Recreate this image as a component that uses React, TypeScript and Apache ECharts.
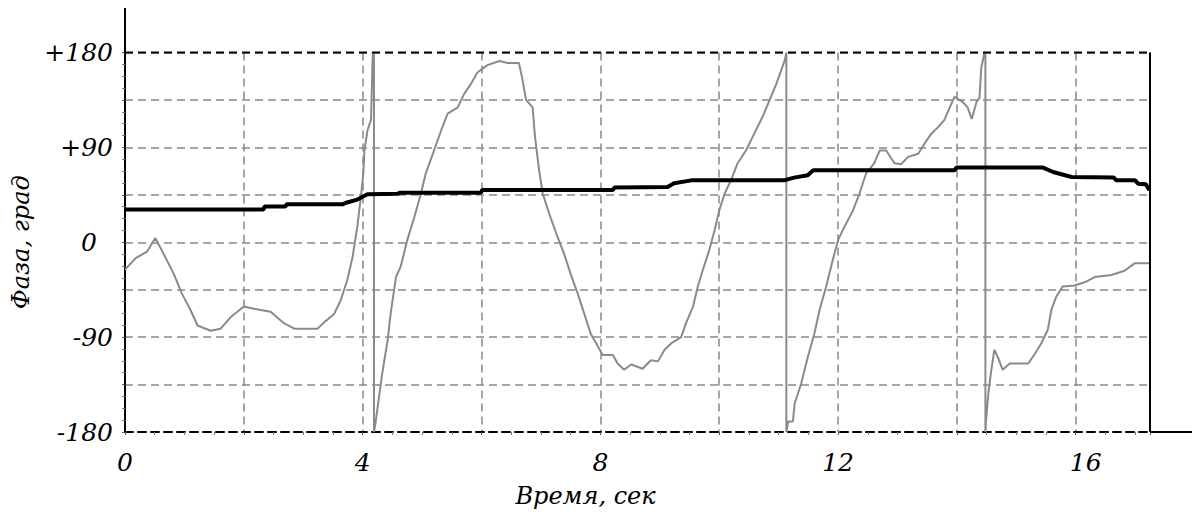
import React, { useEffect, useRef } from "react";
import * as echarts from "echarts";

// Time (s) / phase (deg) samples
const phaseRaw: [number, number][] = [
  [0.0, -26], [0.18, -15], [0.37, -9], [0.51, 4], [0.65, -11], [0.82, -30], [0.96, -49], [1.1, -64],
  [1.22, -79], [1.44, -84], [1.61, -82], [1.78, -71], [2.0, -61], [2.17, -63], [2.45, -66], [2.68, -77],
  [2.85, -82], [3.24, -82], [3.35, -76], [3.52, -68], [3.63, -55], [3.74, -36], [3.83, -14], [3.91, 15],
  [3.97, 43], [4.01, 65], [4.03, 87], [4.08, 106], [4.14, 116], [4.17, 180], [4.19, 180], [4.19, -180],
  [4.22, -170], [4.26, -153], [4.33, -124], [4.42, -93], [4.47, -68], [4.56, -33], [4.64, -23], [4.75, 2],
  [4.87, 24], [4.98, 46], [5.06, 65], [5.2, 87], [5.32, 106], [5.43, 122], [5.6, 128], [5.71, 141],
  [5.82, 150], [5.93, 161], [6.1, 168], [6.3, 172], [6.44, 170], [6.63, 170], [6.69, 154], [6.75, 135],
  [6.86, 128], [6.9, 100], [6.97, 68], [7.03, 46], [7.14, 27], [7.28, 5], [7.39, -11], [7.5, -30],
  [7.62, -49], [7.73, -68], [7.84, -87], [7.95, -98], [8.04, -107], [8.21, -107], [8.29, -115], [8.4, -121],
  [8.52, -116], [8.71, -120], [8.85, -112], [8.97, -113], [9.08, -102], [9.19, -96], [9.36, -90], [9.44, -77],
  [9.56, -61], [9.64, -42], [9.72, -27], [9.83, -8], [9.92, 11], [10.0, 30], [10.09, 46], [10.2, 59],
  [10.31, 75], [10.45, 87], [10.59, 103], [10.73, 119], [10.85, 135], [10.96, 150], [11.1, 172], [11.13, 180],
  [11.13, -180], [11.16, -170], [11.24, -170], [11.27, -153], [11.38, -134], [11.49, -109], [11.6, -87], [11.69, -64],
  [11.8, -42], [11.91, -17], [12.0, 2], [12.11, 15], [12.25, 30], [12.36, 46], [12.47, 65], [12.61, 75],
  [12.7, 87], [12.81, 87], [12.95, 75], [13.06, 74], [13.18, 81], [13.35, 84], [13.46, 94], [13.57, 103],
  [13.68, 109], [13.79, 116], [13.88, 128], [13.96, 138], [14.1, 133], [14.18, 128], [14.25, 117], [14.33, 133],
  [14.38, 137], [14.41, 165], [14.46, 179], [14.48, 180], [14.48, -180], [14.49, -170], [14.53, -143], [14.58, -121],
  [14.63, -102], [14.69, -109], [14.77, -121], [14.89, -115], [15.2, -115], [15.31, -106], [15.42, -96], [15.53, -83],
  [15.59, -64], [15.67, -52], [15.78, -42], [15.98, -41], [16.15, -38], [16.32, -33], [16.6, -31], [16.82, -27],
  [16.99, -20], [17.24, -20],
];

const phaseSmooth: [number, number][] = [
  [0, 31], [2.33, 31], [2.35, 34], [2.7, 34], [2.72, 36], [3.66, 36], [3.72, 37.5], [3.91, 40.5],
  [4.08, 45.5], [4.59, 46], [4.62, 47], [5.99, 47], [6.01, 49.5], [8.21, 49.5], [8.24, 52], [9.13, 52.5],
  [9.24, 56], [9.53, 58.7], [11.09, 58.7], [11.26, 61.3], [11.49, 63.5], [11.58, 68.2], [13.96, 68.2], [13.99, 70.8],
  [15.45, 70.8], [15.62, 66.6], [15.93, 61.9], [16.64, 61.5], [16.68, 58.7], [17.0, 58.7], [17.05, 55.6], [17.18, 55],
  [17.24, 49.3],
];

const yTickLabels: Record<string, string> = { "180": "+180", "90": "+90", "0": "{zero|0}", "-90": "-90", "-180": "-180" };
const xTickLabels: Record<string, string> = { "0": "0", "4": "4", "8": "8", "12": "12", "16": "{sixteen|16}" };
const xMax = 17.25;
const yName = "Фаза, град";
const xName = "Время, сек";

const FONT = "DejaVu Serif";

export default function App() {
  const ref = useRef<HTMLDivElement>(null);
  useEffect(() => {
    if (!ref.current) return;
    const chart = echarts.init(ref.current, null, { renderer: "svg" });
    const labelStyle = { fontFamily: FONT, fontStyle: "italic" as const, fontSize: 25, color: "#000" };
    chart.setOption({
      animation: false,
      backgroundColor: "#fff",
      grid: { left: 125, right: 42, top: 52.5, bottom: 87, containLabel: false },
      xAxis: {
        type: "value",
        min: 0,
        max: xMax,
        interval: 2,
        name: xName,
        nameLocation: "middle",
        nameGap: 52,
        nameTextStyle: { ...labelStyle, fontSize: 24, padding: [0, 104, 0, 0] },
        axisLine: { show: true, onZero: false, lineStyle: { color: "#000", width: 2, type: [8, 5] } },
        axisTick: { show: true, length: 3, lineStyle: { color: "#555" } },
        minorTick: { show: true, splitNumber: 4, length: 3, lineStyle: { color: "#777" } },
        axisLabel: {
          ...labelStyle,
          margin: 18,
          showMaxLabel: false,
          formatter: (v: number) => xTickLabels[String(v)] ?? "",
          rich: { sixteen: { ...labelStyle, padding: [0, 0, 0, 20] } },
        },
        splitLine: { show: true, lineStyle: { color: "#888", width: 1.5, type: [8, 5] } },
      },
      yAxis: {
        type: "value",
        min: -180,
        max: 180,
        interval: 45,
        name: yName,
        nameLocation: "middle",
        nameGap: 92,
        nameRotate: 90,
        nameTextStyle: { ...labelStyle, fontSize: 24 },
        axisLine: { show: true, onZero: false, lineStyle: { color: "#000", width: 2 } },
        axisTick: { show: true, length: 3, lineStyle: { color: "#555" } },
        minorTick: { show: true, splitNumber: 4, length: 3, lineStyle: { color: "#777" } },
        axisLabel: {
          ...labelStyle,
          margin: 12,
          formatter: (v: number) => yTickLabels[String(v)] ?? "",
          rich: { zero: { ...labelStyle, padding: [0, 16, 0, 0] } },
        },
        splitLine: { show: true, lineStyle: { color: "#888", width: 1.5, type: [8, 5] } },
      },
      series: [
        {
          type: "line",
          data: phaseRaw,
          symbol: "none",
          lineStyle: { color: "#8a8a8a", width: 2 },
          z: 3,
        },
        {
          type: "line",
          data: phaseSmooth,
          symbol: "none",
          lineStyle: { color: "#000", width: 4 },
          z: 4,
        },
      ],
    });
    const [x0, yTop] = chart.convertToPixel({ gridIndex: 0 }, [0, 180]) as number[];
    const [x1, yBot] = chart.convertToPixel({ gridIndex: 0 }, [xMax, -180]) as number[];
    chart.setOption({
      graphic: [
        { type: "line", shape: { x1: x0, y1: 8, x2: x0, y2: yTop }, style: { stroke: "#000", lineWidth: 2 }, z: 10 },
        { type: "line", shape: { x1: x0, y1: yTop, x2: x1, y2: yTop }, style: { stroke: "#000", lineWidth: 2, lineDash: [8, 5] }, z: 10 },
        { type: "line", shape: { x1: x1, y1: yTop, x2: x1, y2: yBot }, style: { stroke: "#000", lineWidth: 2 }, z: 10 },
        { type: "line", shape: { x1: x1, y1: yBot, x2: 1192, y2: yBot }, style: { stroke: "#000", lineWidth: 2 }, z: 10 },
      ],
    });
    return () => chart.dispose();
  }, []);
  return <div ref={ref} style={{ width: 1192, height: 519, position: "absolute", left: 0, top: 0 }} />;
}
